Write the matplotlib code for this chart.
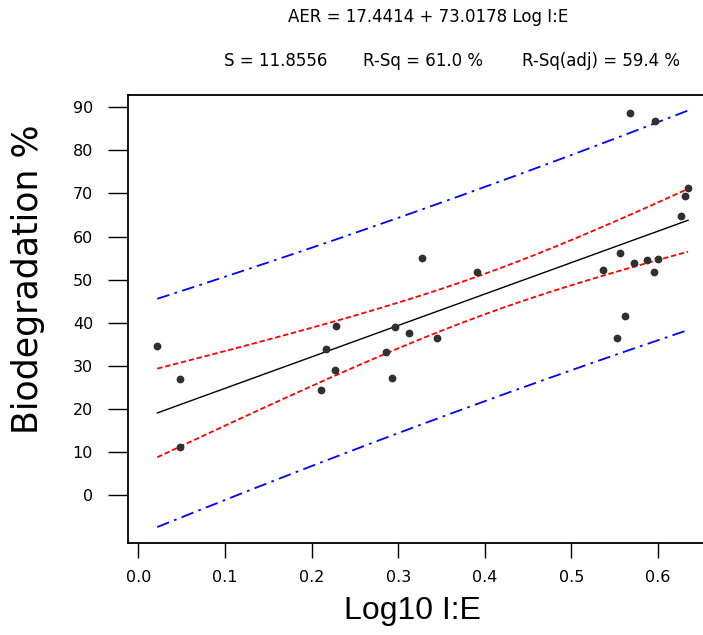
import numpy as np
import matplotlib as mpl
mpl.use('Agg')
import matplotlib.pyplot as plt

mpl.rc('font', family=['DejaVu Sans'])

# Log10 I:E and biodegradation (%) observations
log_ie = [0.022, 0.0486, 0.048, 0.328, 0.228, 0.217, 0.227, 0.211, 0.296,
          0.313, 0.286, 0.2925, 0.3906, 0.345, 0.568, 0.596, 0.6345, 0.6314,
          0.6264, 0.5557, 0.536, 0.5718, 0.5869, 0.5995, 0.5953, 0.5614, 0.553]
biodeg = [34.7, 27.0, 11.1, 55.1, 39.2, 33.9, 29.0, 24.4, 39.0,
          37.7, 33.1, 27.2, 51.8, 36.5, 88.6, 86.9, 71.2, 69.3,
          64.7, 56.1, 52.2, 53.8, 54.5, 54.7, 51.8, 41.5, 36.5]

# regression summary
b0 = 17.4414
b1 = 73.0178
s_err = 11.8556
r_sq = 61.0
r_sq_adj = 59.4
t_crit = 2.0595  # t(0.975, 25)

x = np.array(log_ie)
y = np.array(biodeg)
n = len(x)
xbar = x.mean()
sxx = ((x - xbar)**2).sum()

xs = np.linspace(x.min(), x.max(), 200)
fit = b0 + b1*xs
ci = t_crit*s_err*np.sqrt(1./n + (xs - xbar)**2/sxx)
pi = t_crit*s_err*np.sqrt(1. + 1./n + (xs - xbar)**2/sxx)

dpi = 100
W, H = 703, 635
fig = plt.figure(figsize=(W/dpi, H/dpi), dpi=dpi)
fig.patch.set_facecolor('white')

# axes frame in pixels: left 128, top 95, bottom 543, runs off the right edge
left, top, bottom, right = 127.7, 95.3, 543., 730.
ax = fig.add_axes([left/W, (H-bottom)/H, (right-left)/W, (bottom-top)/H])

# pixel -> data: x0 at 138.2 px, 866.5 px per unit; y0 at 495 px, 4.308 px per unit
ax.set_xlim((left-138.2)/866.5, (right-138.2)/866.5)
ax.set_ylim((495.-bottom)/4.308, (495.-top)/4.308)

ax.plot(xs, fit, color='black', lw=1.0)
ax.plot(xs, fit + ci, color='red', lw=1.3, ls=(0, (3, 1.5)))
ax.plot(xs, fit - ci, color='red', lw=1.3, ls=(0, (3, 1.5)))
ax.plot(xs, fit + pi, color='blue', lw=1.3, ls=(0, (7, 3, 1.5, 3)))
ax.plot(xs, fit - pi, color='blue', lw=1.3, ls=(0, (7, 3, 1.5, 3)))
ax.plot(x, y, 'o', color='#303030', ms=4.6, mec='#303030', zorder=5)

ax.set_xticks(np.arange(0., 0.61, 0.1))
ax.set_xticklabels(['%.1f' % v for v in np.arange(0., 0.61, 0.1)])
ax.set_yticks(np.arange(0, 91, 10))

for side in ['left', 'bottom', 'top']:
    ax.spines[side].set_linewidth(1.3)
ax.spines['right'].set_visible(False)

ax.tick_params(axis='y', direction='out', length=14.4, width=1.0, pad=10.5,
               labelsize=11.5)
ax.tick_params(axis='x', direction='out', length=10.8, width=1.0, pad=9,
               labelsize=11.5)

fig.text(288/W, 1-17/H, 'AER = %.4f + %.4f Log I:E' % (b0, b1),
         ha='left', va='center', fontsize=12)
stats = ['S = %.4f' % s_err, 'R-Sq = %.1f %%' % r_sq,
         'R-Sq(adj) = %.1f %%' % r_sq_adj]
for xp, txt in zip([224, 363, 522], stats):
    fig.text(xp/W, 1-61/H, txt, ha='left', va='center', fontsize=12)

fig.text(412/W, 1-611/H, 'Log10 I:E', ha='center', va='center',
         fontsize=23, family='Liberation Sans')
fig.text(28/W, 1-279.5/H, 'Biodegradation %', ha='center', va='center',
         rotation=90, fontsize=25)

plt.savefig('out.png', dpi=dpi)
